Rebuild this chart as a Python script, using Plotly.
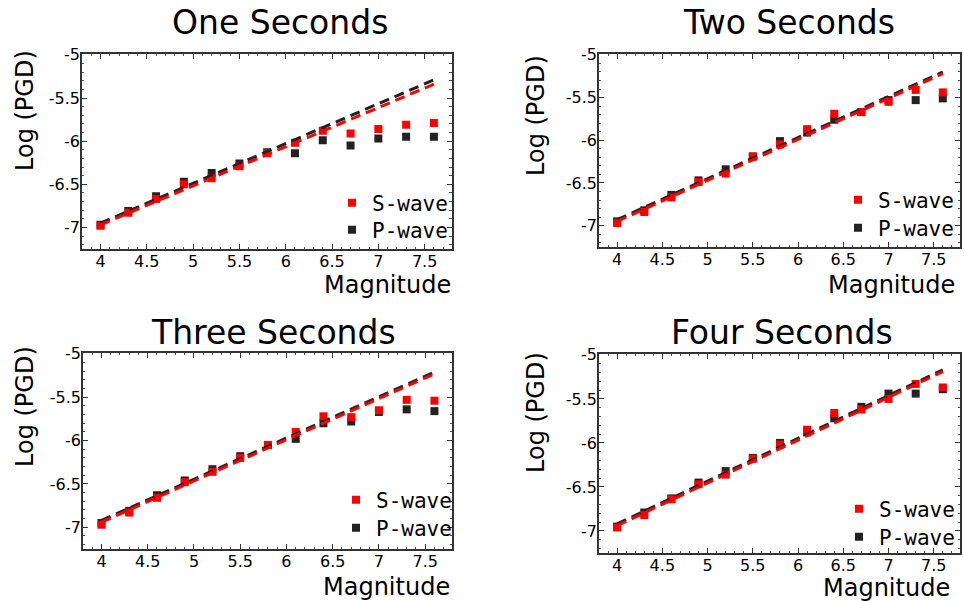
import plotly.graph_objects as go

# ---------------- data ----------------
magnitudes = [4.0, 4.3, 4.6, 4.9, 5.2, 5.5, 5.8, 6.1, 6.4, 6.7, 7.0, 7.3, 7.6]

panel_titles = ["One Seconds", "Two Seconds", "Three Seconds", "Four Seconds"]

s_one = [-6.98, -6.83, -6.67, -6.50, -6.43, -6.29, -6.14, -6.02, -5.88, -5.91, -5.86, -5.81, -5.79]
p_one = [-6.97, -6.81, -6.64, -6.47, -6.37, -6.26, -6.13, -6.14, -5.99, -6.05, -5.97, -5.95, -5.95]
s_two = [-6.97, -6.84, -6.67, -6.49, -6.39, -6.19, -6.05, -5.87, -5.69, -5.67, -5.55, -5.41, -5.44]
p_two = [-6.95, -6.82, -6.64, -6.47, -6.34, -6.19, -6.01, -5.91, -5.76, -5.67, -5.53, -5.53, -5.51]
s_three = [-6.97, -6.83, -6.66, -6.48, -6.36, -6.20, -6.05, -5.90, -5.72, -5.73, -5.65, -5.53, -5.54]
p_three = [-6.95, -6.81, -6.63, -6.46, -6.33, -6.18, -6.05, -5.98, -5.80, -5.78, -5.67, -5.64, -5.66]
s_four = [-6.96, -6.82, -6.64, -6.47, -6.36, -6.18, -6.02, -5.85, -5.66, -5.62, -5.50, -5.33, -5.37]
p_four = [-6.95, -6.79, -6.63, -6.45, -6.32, -6.17, -6.00, -5.88, -5.72, -5.59, -5.44, -5.44, -5.39]

# linear fits: value at smallest and largest magnitude
fit_s_start = [-6.97, -6.95, -6.94, -6.94]
fit_s_end = [-5.34, -5.22, -5.23, -5.19]
fit_p_start = [-6.95, -6.93, -6.92, -6.92]
fit_p_end = [-5.29, -5.20, -5.21, -5.17]

y_tick_vals = [-7, -6.5, -6, -5.5, -5]
y_tick_text = ["-7", "-6.5", "-6", "-5.5", "-5"]
x_tick_vals = [4, 4.5, 5, 5.5, 6, 6.5, 7, 7.5]
x_tick_text = ["4", "4.5", "5", "5.5", "6", "6.5", "7", "7.5"]

s_series = [s_one, s_two, s_three, s_four]
p_series = [p_one, p_two, p_three, p_four]

# ---------------- layout geometry (pixels) ----------------
W, H = 964, 601
RED = "#ff0000"
BLACK = "#222222"
FONT = "DejaVu Sans"

# plot-area boxes: left, right, top, bottom
boxes = [(82, 451.5, 54, 249), (599, 960, 54, 247), (83, 452, 353, 549), (599, 960, 354, 553)]
title_pos = [(280, 23), (789, 23), (273, 333), (782, 333)]
ylab_pos = [(25, 111), (536, 116), (25, 407), (536, 413)]
xlab_pos = [(453, 285), (957, 285), (452, 587), (952, 588)]
# legend marker centres (S-wave, P-wave)
leg_s_pos = [(353, 203), (859, 200), (357, 500), (860, 509)]
leg_p_pos = [(353, 230), (859, 228), (357, 528), (860, 537)]

fig = go.Figure()
layout = dict(
    width=W, height=H, autosize=False,
    margin=dict(l=0, r=0, t=0, b=0, pad=0, autoexpand=False),
    paper_bgcolor="white", plot_bgcolor="white",
    font=dict(family=FONT, color="black"),
    annotations=[],
)

def legend_box(pos):
    mx, my = pos
    return dict(
        x=(mx - 21) / W, y=1 - my / H, xanchor="left", yanchor="middle",
        xref="paper", yref="paper",
        bgcolor="rgba(0,0,0,0)", borderwidth=0,
        font=dict(family="DejaVu Sans Mono", size=21, color="black"),
        itemsizing="trace",
    )

for i in range(4):
    sfx = "" if i == 0 else str(i + 1)
    xa, ya = "x" + sfx, "y" + sfx
    leg_s = "legend" if i == 0 else "legend" + str(2 * i + 1)
    leg_p = "legend" + str(2 * i + 2)
    l, r, t, b = boxes[i]

    fig.add_trace(go.Scatter(
        x=magnitudes, y=p_series[i], mode="markers", name="P-wave",
        marker=dict(symbol="square", size=8, color=BLACK),
        xaxis=xa, yaxis=ya, legend=leg_p))
    fig.add_trace(go.Scatter(
        x=magnitudes, y=s_series[i], mode="markers", name="S-wave",
        marker=dict(symbol="square", size=8, color=RED),
        xaxis=xa, yaxis=ya, legend=leg_s))
    fig.add_trace(go.Scatter(
        x=[magnitudes[0], magnitudes[-1]], y=[fit_p_start[i], fit_p_end[i]],
        mode="lines", line=dict(color=BLACK, width=3, dash="10px,6px"),
        showlegend=False, xaxis=xa, yaxis=ya, hoverinfo="skip"))
    fig.add_trace(go.Scatter(
        x=[magnitudes[0], magnitudes[-1]], y=[fit_s_start[i], fit_s_end[i]],
        mode="lines", line=dict(color=RED, width=3, dash="10px,6px"),
        showlegend=False, xaxis=xa, yaxis=ya, hoverinfo="skip"))

    common = dict(
        showline=True, linecolor="#333333", linewidth=1.5, mirror="allticks",
        ticks="inside", ticklen=5, tickwidth=1, tickcolor="#333333",
        showgrid=False, zeroline=False, automargin=False,
        tickfont=dict(family=FONT, size=16, color="black"),
        minor=dict(ticks="inside", ticklen=2.5, dtick=0.1, tickcolor="#555555", tickwidth=1, showgrid=False),
    )
    layout["xaxis" + sfx] = dict(
        domain=[l / W, r / W], anchor=ya, range=[3.8, 7.79],
        tickvals=x_tick_vals, ticktext=x_tick_text, ticklabelstandoff=-3, **common)
    layout["yaxis" + sfx] = dict(
        domain=[1 - b / H, 1 - t / H], anchor=xa, range=[-7.25, -4.99],
        tickvals=y_tick_vals, ticktext=y_tick_text, ticklabelstandoff=-3, **common)
    layout[leg_s] = legend_box(leg_s_pos[i])
    layout[leg_p] = legend_box(leg_p_pos[i])

    tx, ty = title_pos[i]
    layout["annotations"].append(dict(
        text=panel_titles[i], x=tx / W, y=1 - ty / H, xref="paper", yref="paper",
        xanchor="center", yanchor="middle", showarrow=False,
        font=dict(family=FONT, size=33, color="black")))
    yx, yy = ylab_pos[i]
    layout["annotations"].append(dict(
        text="Log (PGD)", x=yx / W, y=1 - yy / H, xref="paper", yref="paper",
        xanchor="center", yanchor="middle", showarrow=False, textangle=-90,
        font=dict(family=FONT, size=24, color="black")))
    mx, my = xlab_pos[i]
    layout["annotations"].append(dict(
        text="Magnitude", x=mx / W, y=1 - my / H, xref="paper", yref="paper",
        xanchor="right", yanchor="middle", showarrow=False,
        font=dict(family=FONT, size=24, color="black")))

fig.update_layout(**layout)
fig.write_html("out.html")
